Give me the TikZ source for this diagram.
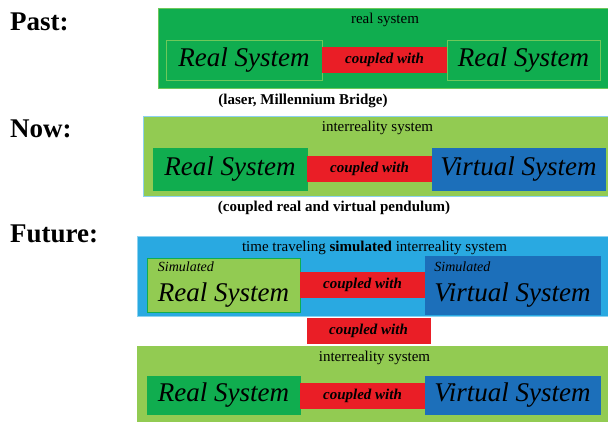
\documentclass[tikz,border=0pt]{standalone}
\usepackage{fontspec}
\setmainfont{Liberation Serif}
\usetikzlibrary{positioning}
\definecolor{dgreen}{RGB}{16,173,79}
\definecolor{lgreen}{RGB}{146,203,82}
\definecolor{dblue}{RGB}{28,111,186}
\definecolor{lblue}{RGB}{41,169,225}
\definecolor{cred}{RGB}{234,30,38}
\definecolor{edgeg}{RGB}{110,200,90}
\definecolor{edgeb}{RGB}{140,210,240}
\newcommand{\bigscript}{\fontsize{27}{30}\selectfont\itshape}
\newcommand{\simfont}{\fontsize{14}{16}\selectfont\itshape}
\newcommand{\couplefont}{\fontsize{15}{17}\selectfont\bfseries\itshape}
\newcommand{\titlefont}{\fontsize{15}{17}\selectfont}
\newcommand{\capfont}{\fontsize{15}{17}\selectfont\bfseries}
\newcommand{\erafont}{\fontsize{27}{30}\selectfont\bfseries}
\tikzstyle{system} = [rectangle, draw, line width=0.6pt, inner sep=0pt, outer sep=0pt, minimum height=80pt]
\tikzstyle{block} = [rectangle, draw, line width=0.6pt, inner sep=0pt, outer sep=0pt, font=\bigscript]
\tikzstyle{coupled} = [rectangle, draw=cred, fill=cred, inner sep=0pt, outer sep=0pt,
  minimum width=125pt, minimum height=25pt, font=\couplefont]
\tikzstyle{title} = [inner sep=0pt, font=\titlefont]
\tikzstyle{caption} = [inner sep=0pt, font=\capfont]
\tikzstyle{era} = [inner sep=0pt, anchor=west, font=\erafont]

\begin{document}
\begin{tikzpicture}[x=1pt, y=-1pt]
  \useasboundingbox (0,0) rectangle (608,421);

  %%%%%%%%%%%%%%%%%%%%%%%%%%%%%%%%%%%%%%%%%%%%%%%%%%%%%%%%%%%%%%
  %                    PAST                                    %
  %%%%%%%%%%%%%%%%%%%%%%%%%%%%%%%%%%%%%%%%%%%%%%%%%%%%%%%%%%%%%%

  \node [era] (past) at (10,22) {Past:};
  \node [system, fill=dgreen, draw=edgeg, minimum width=454pt] (past-sys) at (385,48) {};
  \node [title, below=5pt of past-sys.north] (past-title) {real system};
  \node [block, fill=dgreen, draw=edgeg, minimum width=156pt, minimum height=40pt] (past-real-a) at (244,60) {Real System};
  \node [coupled, right=0pt of past-real-a] (past-coupled) {coupled with};
  \node [block, fill=dgreen, draw=edgeg, minimum width=153pt, minimum height=40pt, right=0pt of past-coupled] (past-real-b) {Real System};
  \node [caption] (past-caption) at (303,101) {(laser, Millennium Bridge)};

  %%%%%%%%%%%%%%%%%%%%%%%%%%%%%%%%%%%%%%%%%%%%%%%%%%%%%%%%%%%%%%
  %                    NOW                                     %
  %%%%%%%%%%%%%%%%%%%%%%%%%%%%%%%%%%%%%%%%%%%%%%%%%%%%%%%%%%%%%%

  \node [era] (now) at (10,129) {Now:};
  \node [system, fill=lgreen, draw=edgeb, minimum width=469pt] (now-sys) at (377.5,156) {};
  \node [title, below=5pt of now-sys.north] (now-title) {interreality system};
  \node [block, fill=dgreen, draw=dgreen, minimum width=154pt, minimum height=42pt] (now-real) at (230,169) {Real System};
  \node [coupled, right=0pt of now-real] (now-coupled) {coupled with};
  \node [block, fill=dblue, draw=dblue, minimum width=173pt, minimum height=42pt, right=0pt of now-coupled] (now-virtual) {Virtual System};
  \node [caption] (now-caption) at (334,208) {(coupled real and virtual pendulum)};

  %%%%%%%%%%%%%%%%%%%%%%%%%%%%%%%%%%%%%%%%%%%%%%%%%%%%%%%%%%%%%%
  %                    FUTURE                                  %
  %%%%%%%%%%%%%%%%%%%%%%%%%%%%%%%%%%%%%%%%%%%%%%%%%%%%%%%%%%%%%%

  \node [era] (future) at (10,234) {Future:};
  \node [system, fill=lblue, draw=edgeb, minimum width=475pt] (fut-sim-sys) at (374.5,276) {};
  \node [title, below=5pt of fut-sim-sys.north] (fut-sim-title) {time traveling \textbf{simulated} interreality system};
  \node [block, fill=lgreen, draw=dgreen, minimum width=153pt, minimum height=54pt, align=left] (fut-sim-real) at (223.5,285) {{\simfont Simulated}\\Real System};
  \node [coupled, right=0pt of fut-sim-real] (fut-sim-coupled) {coupled with};
  \node [block, fill=dblue, draw=dblue, minimum width=175pt, minimum height=58pt, align=left, right=0pt of fut-sim-coupled] (fut-sim-virtual) {{\simfont Simulated}\\Virtual System};

  \node [coupled, minimum width=123pt] (fut-link) at (368.5,330.5) {coupled with};

  \node [system, fill=lgreen, draw=lgreen, minimum width=475pt, minimum height=82pt] (fut-sys) at (374.5,387) {};
  \node [title, below=5pt of fut-sys.north] (fut-title) {interreality system};
  \node [block, fill=dgreen, draw=dgreen, minimum width=153pt, minimum height=38pt] (fut-real) at (223.5,395.5) {Real System};
  \node [coupled, right=0pt of fut-real] (fut-coupled) {coupled with};
  \node [block, fill=dblue, draw=dblue, minimum width=175pt, minimum height=38pt, right=0pt of fut-coupled] (fut-virtual) {Virtual System};

\end{tikzpicture}
\end{document}
